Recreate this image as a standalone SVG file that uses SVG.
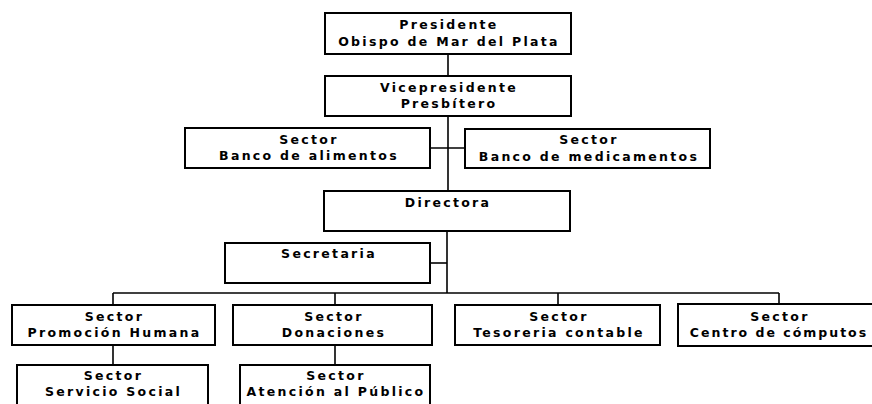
<svg xmlns="http://www.w3.org/2000/svg" width="872" height="404" viewBox="0 0 872 404">
<style>
.box{fill:#fff;stroke:#000;stroke-width:2}
.t{font-family:"DejaVu Sans","Liberation Sans",Arial,sans-serif;font-weight:bold;font-size:12.5px;letter-spacing:2.3px;text-anchor:middle;fill:#000}
.c{fill:none;stroke:#000;stroke-width:1.6}
</style>
<rect width="872" height="404" fill="#fff"/>
<g id="connectors">
<line class="c" x1="448" y1="54" x2="448" y2="76"/>
<line class="c" x1="448" y1="116" x2="448" y2="191"/>
<line class="c" x1="430" y1="148" x2="465" y2="148"/>
<line class="c" x1="447" y1="231" x2="447" y2="293"/>
<line class="c" x1="430" y1="263" x2="447" y2="263"/>
<line class="c" x1="113" y1="293" x2="779" y2="293"/>
<line class="c" x1="113" y1="293" x2="113" y2="305"/>
<line class="c" x1="335" y1="293" x2="335" y2="305"/>
<line class="c" x1="558" y1="293" x2="558" y2="305"/>
<line class="c" x1="779" y1="293" x2="779" y2="304"/>
<line class="c" x1="113" y1="345" x2="113" y2="365"/>
<line class="c" x1="335" y1="345" x2="335" y2="365"/>
</g>
<g id="presidente">
<rect class="box" x="325" y="13" width="246" height="41"/>
<text class="t" x="449" y="29">Presidente</text>
<text class="t" x="449" y="46">Obispo de Mar del Plata</text>
</g>
<g id="vicepresidente">
<rect class="box" x="325" y="76" width="246" height="40"/>
<text class="t" x="449" y="92">Vicepresidente</text>
<text class="t" x="449" y="108">Presbítero</text>
</g>
<g id="banco-alimentos">
<rect class="box" x="185" y="128" width="245" height="40"/>
<text class="t" x="309" y="143.5">Sector</text>
<text class="t" x="309" y="160">Banco de alimentos</text>
</g>
<g id="banco-medicamentos">
<rect class="box" x="465" y="129" width="245" height="39"/>
<text class="t" x="589" y="144">Sector</text>
<text class="t" x="589" y="160.5">Banco de medicamentos</text>
</g>
<g id="directora">
<rect class="box" x="324" y="191" width="246" height="40"/>
<text class="t" x="448" y="207">Directora</text>
</g>
<g id="secretaria">
<rect class="box" x="225" y="243" width="205" height="40"/>
<text class="t" x="329" y="258">Secretaria</text>
</g>
<g id="promocion-humana">
<rect class="box" x="12" y="305" width="203" height="40"/>
<text class="t" x="114.5" y="321">Sector</text>
<text class="t" x="114.5" y="337">Promoción Humana</text>
</g>
<g id="donaciones">
<rect class="box" x="233" y="305" width="199" height="40"/>
<text class="t" x="334" y="321">Sector</text>
<text class="t" x="334" y="337">Donaciones</text>
</g>
<g id="tesoreria">
<rect class="box" x="455" y="305" width="205" height="40"/>
<text class="t" x="559" y="321">Sector</text>
<text class="t" x="559" y="337">Tesoreria contable</text>
</g>
<g id="computos">
<rect class="box" x="678" y="304" width="206" height="42"/>
<text class="t" x="780" y="321">Sector</text>
<text class="t" x="779" y="337" style="letter-spacing:2px">Centro de cómputos</text>
</g>
<g id="servicio-social">
<rect class="box" x="17" y="365" width="191" height="50"/>
<text class="t" x="113.5" y="380">Sector</text>
<text class="t" x="113.5" y="396">Servicio Social</text>
</g>
<g id="atencion-publico">
<rect class="box" x="240" y="365" width="190" height="50"/>
<text class="t" x="336" y="380">Sector</text>
<text class="t" x="336" y="396">Atención al Público</text>
</g>
</svg>
